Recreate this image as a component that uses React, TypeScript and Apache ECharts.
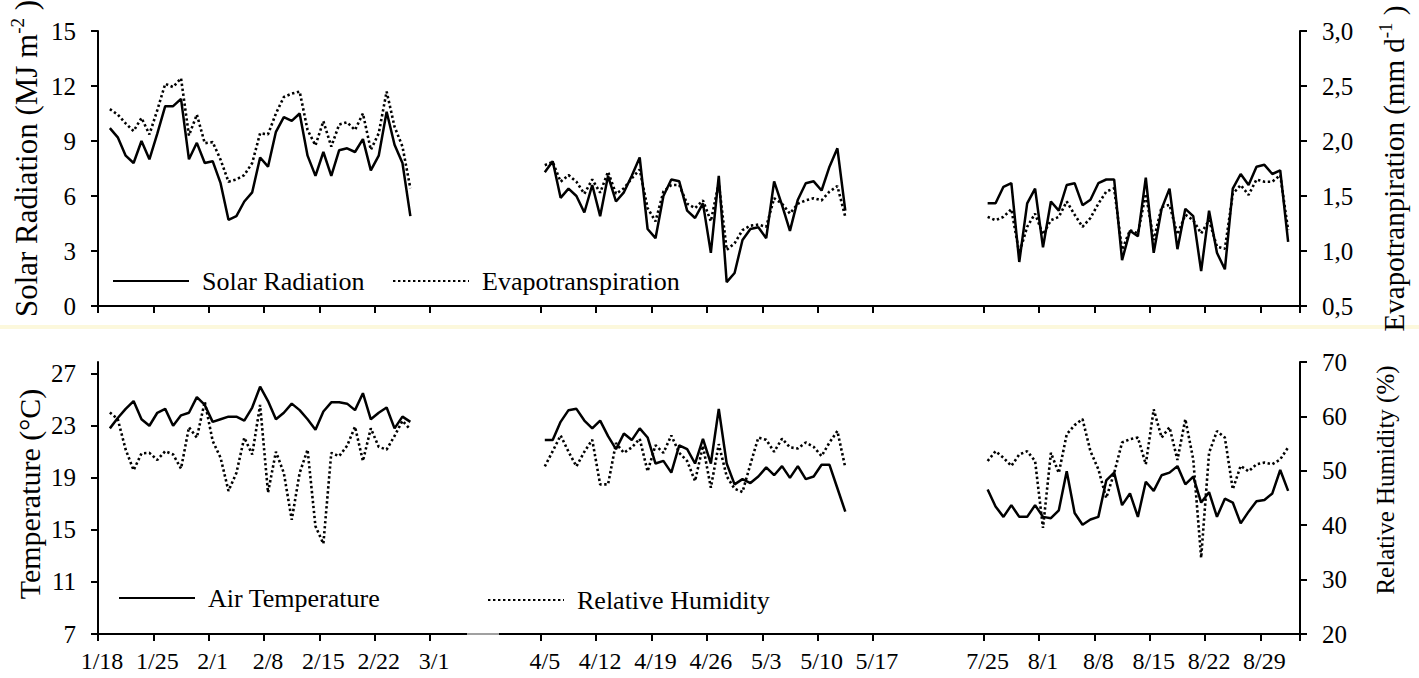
import React, { useEffect, useRef } from 'react';
import * as echarts from 'echarts';

// ---------------- data ----------------
// Three observation periods (month, day of first category) separated by blank categories
const periodStarts: number[][] = [[1, 18], [4, 5], [7, 25]];
const periodLengths = [49, 49, 40];
const gapLength = 7;
// first observed day inside each period (0 = first category of the period)
const firstObservation = [1, 0, 0];

// Solar radiation (MJ m-2)
const solarRadiation1 = [9.7, 9.2, 8.2, 7.8, 9.0, 8.0, 9.4, 10.9, 10.9, 11.3, 8.0, 8.9, 7.8, 7.9, 6.7, 4.7, 4.9, 5.7, 6.2, 8.1, 7.6, 9.5, 10.3, 10.1, 10.5, 8.2, 7.1, 8.4, 7.1, 8.5, 8.6, 8.4, 9.1, 7.4, 8.2, 10.6, 8.8, 7.8, 4.9];
const solarRadiation2 = [7.3, 7.9, 5.9, 6.4, 6.0, 5.1, 6.6, 4.9, 7.1, 5.7, 6.2, 7.1, 8.1, 4.2, 3.7, 6.0, 6.9, 6.8, 5.2, 4.8, 5.6, 2.9, 7.1, 1.3, 1.8, 3.6, 4.2, 4.3, 3.7, 6.8, 5.5, 4.1, 5.8, 6.7, 6.8, 6.3, 7.6, 8.6, 5.2];
const solarRadiation3 = [5.6, 5.6, 6.5, 6.7, 2.4, 5.6, 6.4, 3.2, 5.7, 5.2, 6.6, 6.7, 5.5, 5.8, 6.7, 6.9, 6.9, 2.5, 4.1, 3.8, 7.0, 2.9, 5.3, 6.4, 3.1, 5.3, 4.9, 1.9, 5.2, 2.9, 2.0, 6.4, 7.2, 6.6, 7.6, 7.7, 7.2, 7.4, 3.5];

// Evapotranspiration (mm d-1)
const evapotranspiration1 = [2.29, 2.24, 2.16, 2.09, 2.21, 2.06, 2.28, 2.52, 2.49, 2.57, 2.05, 2.24, 1.98, 1.99, 1.83, 1.63, 1.65, 1.69, 1.80, 2.07, 2.06, 2.25, 2.40, 2.43, 2.45, 2.10, 1.96, 2.18, 1.95, 2.15, 2.17, 2.10, 2.25, 1.92, 2.07, 2.45, 2.13, 1.95, 1.57];
const evapotranspiration2 = [1.78, 1.81, 1.63, 1.69, 1.63, 1.52, 1.65, 1.53, 1.72, 1.52, 1.57, 1.66, 1.74, 1.39, 1.27, 1.54, 1.60, 1.60, 1.43, 1.39, 1.46, 1.27, 1.62, 1.01, 1.07, 1.19, 1.23, 1.24, 1.22, 1.48, 1.43, 1.34, 1.43, 1.46, 1.48, 1.46, 1.54, 1.59, 1.31];
const evapotranspiration3 = [1.31, 1.28, 1.31, 1.38, 0.98, 1.22, 1.34, 1.15, 1.28, 1.31, 1.45, 1.33, 1.22, 1.30, 1.43, 1.54, 1.57, 1.01, 1.19, 1.16, 1.52, 1.10, 1.40, 1.42, 1.15, 1.33, 1.28, 1.16, 1.28, 1.04, 1.02, 1.52, 1.60, 1.51, 1.65, 1.63, 1.63, 1.69, 1.19];

// Air temperature (°C)
const airTemperature1 = [22.8, 23.6, 24.3, 24.9, 23.5, 23.0, 24.0, 24.3, 23.0, 23.8, 24.0, 25.2, 24.6, 23.3, 23.5, 23.7, 23.7, 23.4, 24.4, 26.0, 24.9, 23.5, 24.0, 24.7, 24.2, 23.5, 22.7, 24.1, 24.8, 24.8, 24.7, 24.2, 25.5, 23.5, 24.0, 24.4, 22.8, 23.7, 23.3];
const airTemperature2 = [21.9, 21.9, 23.3, 24.2, 24.3, 23.4, 22.8, 23.4, 22.2, 21.2, 22.4, 21.9, 22.8, 22.1, 20.1, 20.3, 19.4, 21.5, 21.2, 20.1, 22.0, 20.1, 24.3, 20.1, 18.5, 18.9, 18.6, 19.1, 19.8, 19.2, 19.9, 19.0, 19.9, 18.9, 19.1, 20.0, 20.0, 18.2, 16.4];
const airTemperature3 = [18.1, 16.8, 16.0, 16.9, 16.0, 16.0, 16.9, 16.0, 15.9, 16.5, 19.5, 16.3, 15.4, 15.8, 16.0, 18.8, 19.4, 16.9, 17.8, 16.0, 18.7, 18.0, 19.2, 19.4, 19.9, 18.5, 19.1, 17.1, 17.9, 16.0, 17.4, 17.1, 15.5, 16.4, 17.2, 17.3, 17.8, 19.6, 18.0];

// Relative humidity (%)
const relativeHumidity1 = [60.7, 59.5, 53.9, 50.1, 53.2, 53.3, 52.0, 53.6, 53.0, 50.4, 58.0, 56.1, 62.7, 55.5, 52.4, 46.3, 49.6, 56.1, 53.0, 62.1, 46.0, 53.5, 49.6, 41.0, 49.6, 53.9, 39.8, 36.6, 53.3, 52.7, 54.6, 58.1, 51.8, 57.8, 54.4, 53.9, 56.4, 59.2, 57.6];
const relativeHumidity2 = [50.8, 53.6, 56.5, 53.5, 50.8, 53.5, 55.7, 47.5, 47.5, 55.1, 53.3, 54.3, 55.9, 49.9, 54.7, 53.3, 56.5, 53.3, 51.8, 48.1, 54.6, 46.9, 54.9, 49.0, 46.7, 46.1, 51.2, 56.1, 55.7, 53.5, 55.9, 54.3, 54.1, 55.2, 54.4, 52.7, 55.2, 57.3, 50.6];
const relativeHumidity3 = [51.8, 53.6, 52.4, 50.9, 53.0, 53.6, 51.8, 39.5, 53.3, 49.6, 56.7, 58.4, 59.5, 53.6, 50.3, 45.0, 49.6, 55.2, 55.8, 56.1, 51.2, 61.3, 56.1, 58.0, 52.0, 59.5, 52.1, 34.0, 53.3, 57.3, 56.1, 46.6, 50.9, 49.9, 51.2, 51.5, 51.2, 52.1, 54.3];

const temperatureTicks = [7, 11, 15, 19, 23, 27];
const labelEvery = 7;

// ---------------- derived ----------------
const categories: string[] = [];
const periodOffsets: number[] = [];
periodStarts.forEach(([m, d], p) => {
  periodOffsets.push(categories.length);
  for (let k = 0; k < periodLengths[p]; k++) {
    const dt = new Date(2010, m - 1, d + k);
    categories.push(`${dt.getMonth() + 1}/${dt.getDate()}`);
  }
  if (p < periodStarts.length - 1) {
    for (let k = 0; k < gapLength; k++) categories.push('');
  }
});

function place(segments: number[][]): (number | null)[] {
  const out: (number | null)[] = categories.map(() => null);
  segments.forEach((seg, p) => {
    seg.forEach((v, k) => {
      out[periodOffsets[p] + firstObservation[p] + k] = v;
    });
  });
  return out;
}

const FONT = 'Liberation Serif';
const BLACK = '#000';
const showEvery = (index: number, value: string) => index % labelEvery === 0 && value !== '';

function xAxis(gridIndex: number, showLabels: boolean) {
  return {
    type: 'category',
    gridIndex,
    data: categories,
    boundaryGap: true,
    axisLine: { show: true, onZero: false, lineStyle: { color: BLACK, width: 2 } },
    axisTick: { show: true, interval: showEvery, length: 7, lineStyle: { color: BLACK, width: 2 } },
    axisLabel: {
      show: showLabels,
      interval: showEvery,
      fontFamily: FONT,
      fontSize: 24,
      color: BLACK,
      margin: 15,
    },
    splitLine: { show: false },
  };
}

function yAxisBase(gridIndex: number, position: 'left' | 'right') {
  return {
    type: 'value',
    gridIndex,
    position,
    axisLine: { show: true, onZero: false, lineStyle: { color: BLACK, width: 2 } },
    axisTick: { show: true, length: 7, lineStyle: { color: BLACK, width: 2 } },
    axisLabel: { fontFamily: FONT, fontSize: 25, color: BLACK, margin: 22 },
    splitLine: { show: false },
    nameLocation: 'middle',
    nameRotate: 90,
    nameMoveOverlap: false,
  };
}

const supStyle = { fontFamily: FONT, fontSize: 19, color: BLACK, padding: [0, 0, 17, 0] };

function legend(name: string, left: number, top: number) {
  return {
    data: [name],
    left,
    top,
    padding: 0,
    itemWidth: 76,
    itemHeight: 10,
    selectedMode: false,
    itemStyle: { opacity: 0 },
    textStyle: { fontFamily: FONT, fontSize: 26, color: BLACK, lineHeight: 30, padding: [0, 0, 0, 8] },
  };
}

export default function App() {
  const ref = useRef<HTMLDivElement>(null);

  useEffect(() => {
    if (!ref.current) return;
    const chart = echarts.init(ref.current, null, { renderer: 'svg' });

    const solidLine = { color: BLACK, width: 2.5, type: 'solid' };
    const dottedLine = { color: BLACK, width: 2.6, type: [2.4, 2.6] };

    const option: any = {
      animation: false,
      backgroundColor: '#fff',
      textStyle: { fontFamily: FONT, color: BLACK },
      grid: [
        { left: 98, right: 119, top: 31, height: 275, outerBoundsMode: 'none', containLabel: false },
        { left: 98, right: 119, top: 362, height: 272, outerBoundsMode: 'none', containLabel: false },
      ],
      xAxis: [xAxis(0, false), xAxis(1, true)],
      yAxis: [
        {
          ...yAxisBase(0, 'left'),
          min: 0,
          max: 15,
          interval: 3,
          name: 'Solar Radiation (MJ m{sup|-2} )',
          nameGap: 54,
          nameTextStyle: {
            fontFamily: FONT,
            fontSize: 31,
            color: BLACK,
            padding: [0, 0, 0, 20],
            rich: { sup: supStyle },
          },
        },
        {
          ...yAxisBase(0, 'right'),
          min: 0.5,
          max: 3.0,
          interval: 0.5,
          axisLabel: {
            fontFamily: FONT,
            fontSize: 25,
            color: BLACK,
            margin: 22,
            formatter: (v: number) => v.toFixed(1).replace('.', ','),
          },
          name: 'Evapotranpiration (mm d{sup|-1} )',
          nameGap: 76,
          nameTextStyle: { fontFamily: FONT, fontSize: 29, color: BLACK, rich: { sup: supStyle } },
        },
        {
          ...yAxisBase(1, 'left'),
          min: 7,
          max: 27.9,
          axisTick: { show: true, length: 7, customValues: temperatureTicks, lineStyle: { color: BLACK, width: 2 } },
          axisLabel: { fontFamily: FONT, fontSize: 25, color: BLACK, margin: 22, customValues: temperatureTicks },
          name: 'Temperature (°C)',
          nameGap: 54,
          nameTextStyle: { fontFamily: FONT, fontSize: 30, color: BLACK, padding: [0, 0, 0, 8] },
        },
        {
          ...yAxisBase(1, 'right'),
          min: 20,
          max: 70,
          interval: 10,
          name: 'Relative Humidity (%)',
          nameGap: 73,
          nameTextStyle: { fontFamily: FONT, fontSize: 25, color: BLACK, padding: [0, 0, 0, 36] },
        },
      ],
      legend: [
        legend('Solar Radiation', 112, 266),
        legend('Evapotranspiration', 392, 266),
        legend('Air Temperature', 118, 583),
        legend('Relative Humidity', 487, 585),
      ],
      series: [
        {
          name: 'Solar Radiation',
          type: 'line',
          xAxisIndex: 0,
          yAxisIndex: 0,
          data: place([solarRadiation1, solarRadiation2, solarRadiation3]),
          symbol: 'none',
          showSymbol: false,
          connectNulls: false,
          lineStyle: solidLine,
          itemStyle: { color: BLACK },
          silent: true,
          z: 3,
        },
        {
          name: 'Evapotranspiration',
          type: 'line',
          xAxisIndex: 0,
          yAxisIndex: 1,
          data: place([evapotranspiration1, evapotranspiration2, evapotranspiration3]),
          symbol: 'none',
          showSymbol: false,
          connectNulls: false,
          lineStyle: dottedLine,
          itemStyle: { color: BLACK },
          silent: true,
          z: 2,
        },
        {
          name: 'Air Temperature',
          type: 'line',
          xAxisIndex: 1,
          yAxisIndex: 2,
          data: place([airTemperature1, airTemperature2, airTemperature3]),
          symbol: 'none',
          showSymbol: false,
          connectNulls: false,
          lineStyle: solidLine,
          itemStyle: { color: BLACK },
          silent: true,
          z: 3,
        },
        {
          name: 'Relative Humidity',
          type: 'line',
          xAxisIndex: 1,
          yAxisIndex: 3,
          data: place([relativeHumidity1, relativeHumidity2, relativeHumidity3]),
          symbol: 'none',
          showSymbol: false,
          connectNulls: false,
          lineStyle: dottedLine,
          itemStyle: { color: BLACK },
          silent: true,
          z: 2,
        },
      ],
      graphic: [
        {
          type: 'rect',
          silent: true,
          z: -10,
          shape: { x: 0, y: 325, width: 1419, height: 4 },
          style: { fill: '#fcf8dc' },
        },
        {
          type: 'line',
          silent: true,
          z: 100,
          shape: { x1: 467, y1: 634, x2: 499, y2: 634 },
          style: { stroke: '#a0a0a0', lineWidth: 2 },
        },
      ],
    };

    chart.setOption(option);
    return () => chart.dispose();
  }, []);

  return (
    <div
      ref={ref}
      style={{ position: 'absolute', left: 0, top: 0, width: 1419, height: 678, background: '#fff' }}
    />
  );
}
